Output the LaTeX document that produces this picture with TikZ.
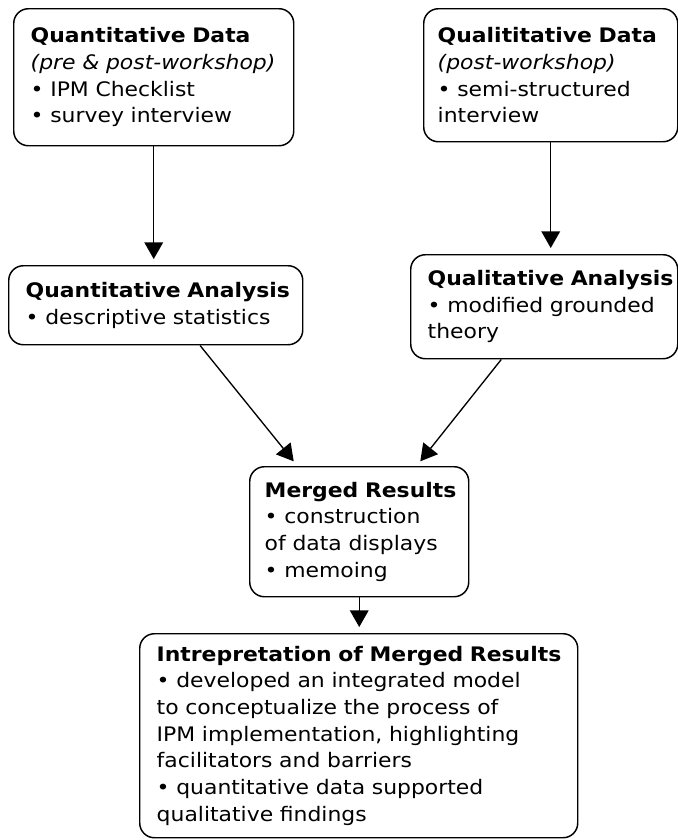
\documentclass[tikz,border=0pt]{standalone}
\usepackage{fontspec}
\setmainfont{DejaVu Sans}[FakeStretch=1.095]
\usetikzlibrary{arrows.meta,calc}
\tikzset{
    stagebox/.style={draw,line width=1.1pt,rounded corners=11pt,anchor=north west,align=left,inner ysep=4pt,
        font=\fontsize{15pt}{20pt}\selectfont,execute at begin node={\rightskip=0pt minus 200pt}},
    flow/.style={line width=1pt,-{Triangle[length=12.5pt,width=14pt]},shorten >=4.5pt}
}
\begin{document}
\begin{tikzpicture}[x=0.75pt,y=-0.75pt]
    \useasboundingbox (0,0) rectangle (678,840);
    \node[stagebox,minimum width=210pt,minimum height=102.75pt,inner xsep=12.75pt,text width=184.5pt] (qntdata) at (13,8)
        {\textbf{Quantitative Data}\\ \textit{(pre \& post-workshop)}\\ • IPM Checklist\\ • survey interview};
    \node[stagebox,minimum width=190.5pt,minimum height=99.75pt,inner xsep=10.5pt,text width=169.5pt] (qltdata) at (423,8)
        {\textbf{Qualititative Data}\\ \textit{(post-workshop)}\\ • semi-structured\\ interview};
    \node[stagebox,minimum width=220.5pt,minimum height=59.25pt,inner xsep=12.75pt,text width=195pt] (qntanalysis) at (8,265)
        {\textbf{Quantitative Analysis}\\ • descriptive statistics};
    \node[stagebox,minimum width=200.25pt,minimum height=78pt,inner xsep=12.75pt,text width=174.75pt] (qltanalysis) at (410,254)
        {\textbf{Qualitative Analysis}\\ • modified grounded\\ theory};
    \node[stagebox,minimum width=164.25pt,minimum height=97.5pt,inner xsep=11.25pt,text width=141.75pt] (merged) at (249,466)
        {\textbf{Merged Results}\\ • construction\\ of data displays\\ • memoing};
    \node[stagebox,minimum width=328.5pt,minimum height=153pt,inner xsep=12.75pt,text width=303pt] (interp) at (139,633)
        {\textbf{Intrepretation of Merged Results}\\ • developed an integrated model\\ to conceptualize the process of\\
         IPM implementation, highlighting\\ facilitators and barriers\\ • quantitative data supported\\ qualitative findings};
    \draw[flow] (qntdata.south) -- (qntdata.south |- qntanalysis.north);
    \draw[flow] (qltdata.south) -- (qltdata.south |- qltanalysis.north);
    \draw[flow] ($(qntanalysis.south west)!0.65!(qntanalysis.south east)$) -- ($(merged.north west)!0.22!(merged.north east)$);
    \draw[flow] ($(qltanalysis.south west)!0.34!(qltanalysis.south east)$) -- ($(merged.north west)!0.76!(merged.north east)$);
    \draw[flow] (merged.south) -- (merged.south |- interp.north);
\end{tikzpicture}
\end{document}
